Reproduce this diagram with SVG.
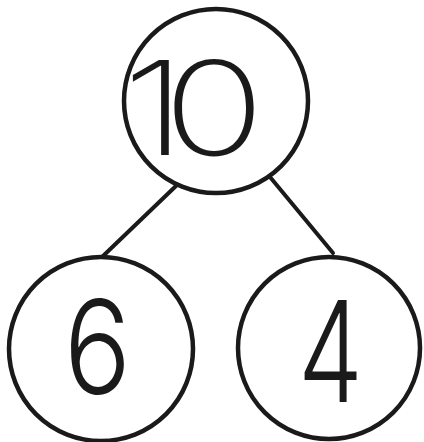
<svg xmlns="http://www.w3.org/2000/svg" width="424" height="442" viewBox="0 0 424 442">
<style>
.node circle{fill:none;stroke:#1a1a1a;stroke-width:4.5}
.edge{stroke:#1a1a1a;stroke-width:4;stroke-linecap:round}
.num{font-family:Inter,"Open Sans","DejaVu Sans",sans-serif;font-weight:300;fill:#1a1a1a}
</style>
<rect width="424" height="442" fill="#fff"/>
<g id="connectors">
<line class="edge" x1="177" y1="185" x2="102" y2="257"/>
<line class="edge" x1="270" y1="177" x2="333" y2="253"/>
</g>
<g id="node-10" class="node">
<circle cx="216" cy="101" r="92"/>
<text class="num" transform="scale(1.3,1)" x="94" y="155" font-size="130" letter-spacing="-18" style="font-weight:200">10</text>
</g>
<g id="node-6" class="node">
<circle cx="101" cy="349" r="92"/>
<text class="num" x="64" y="394" font-size="130" textLength="67" lengthAdjust="spacingAndGlyphs">6</text>
</g>
<g id="node-4" class="node">
<circle cx="329" cy="348" r="91"/>
<text class="num" x="298" y="402" font-size="140" textLength="65" lengthAdjust="spacingAndGlyphs">4</text>
</g>
</svg>
